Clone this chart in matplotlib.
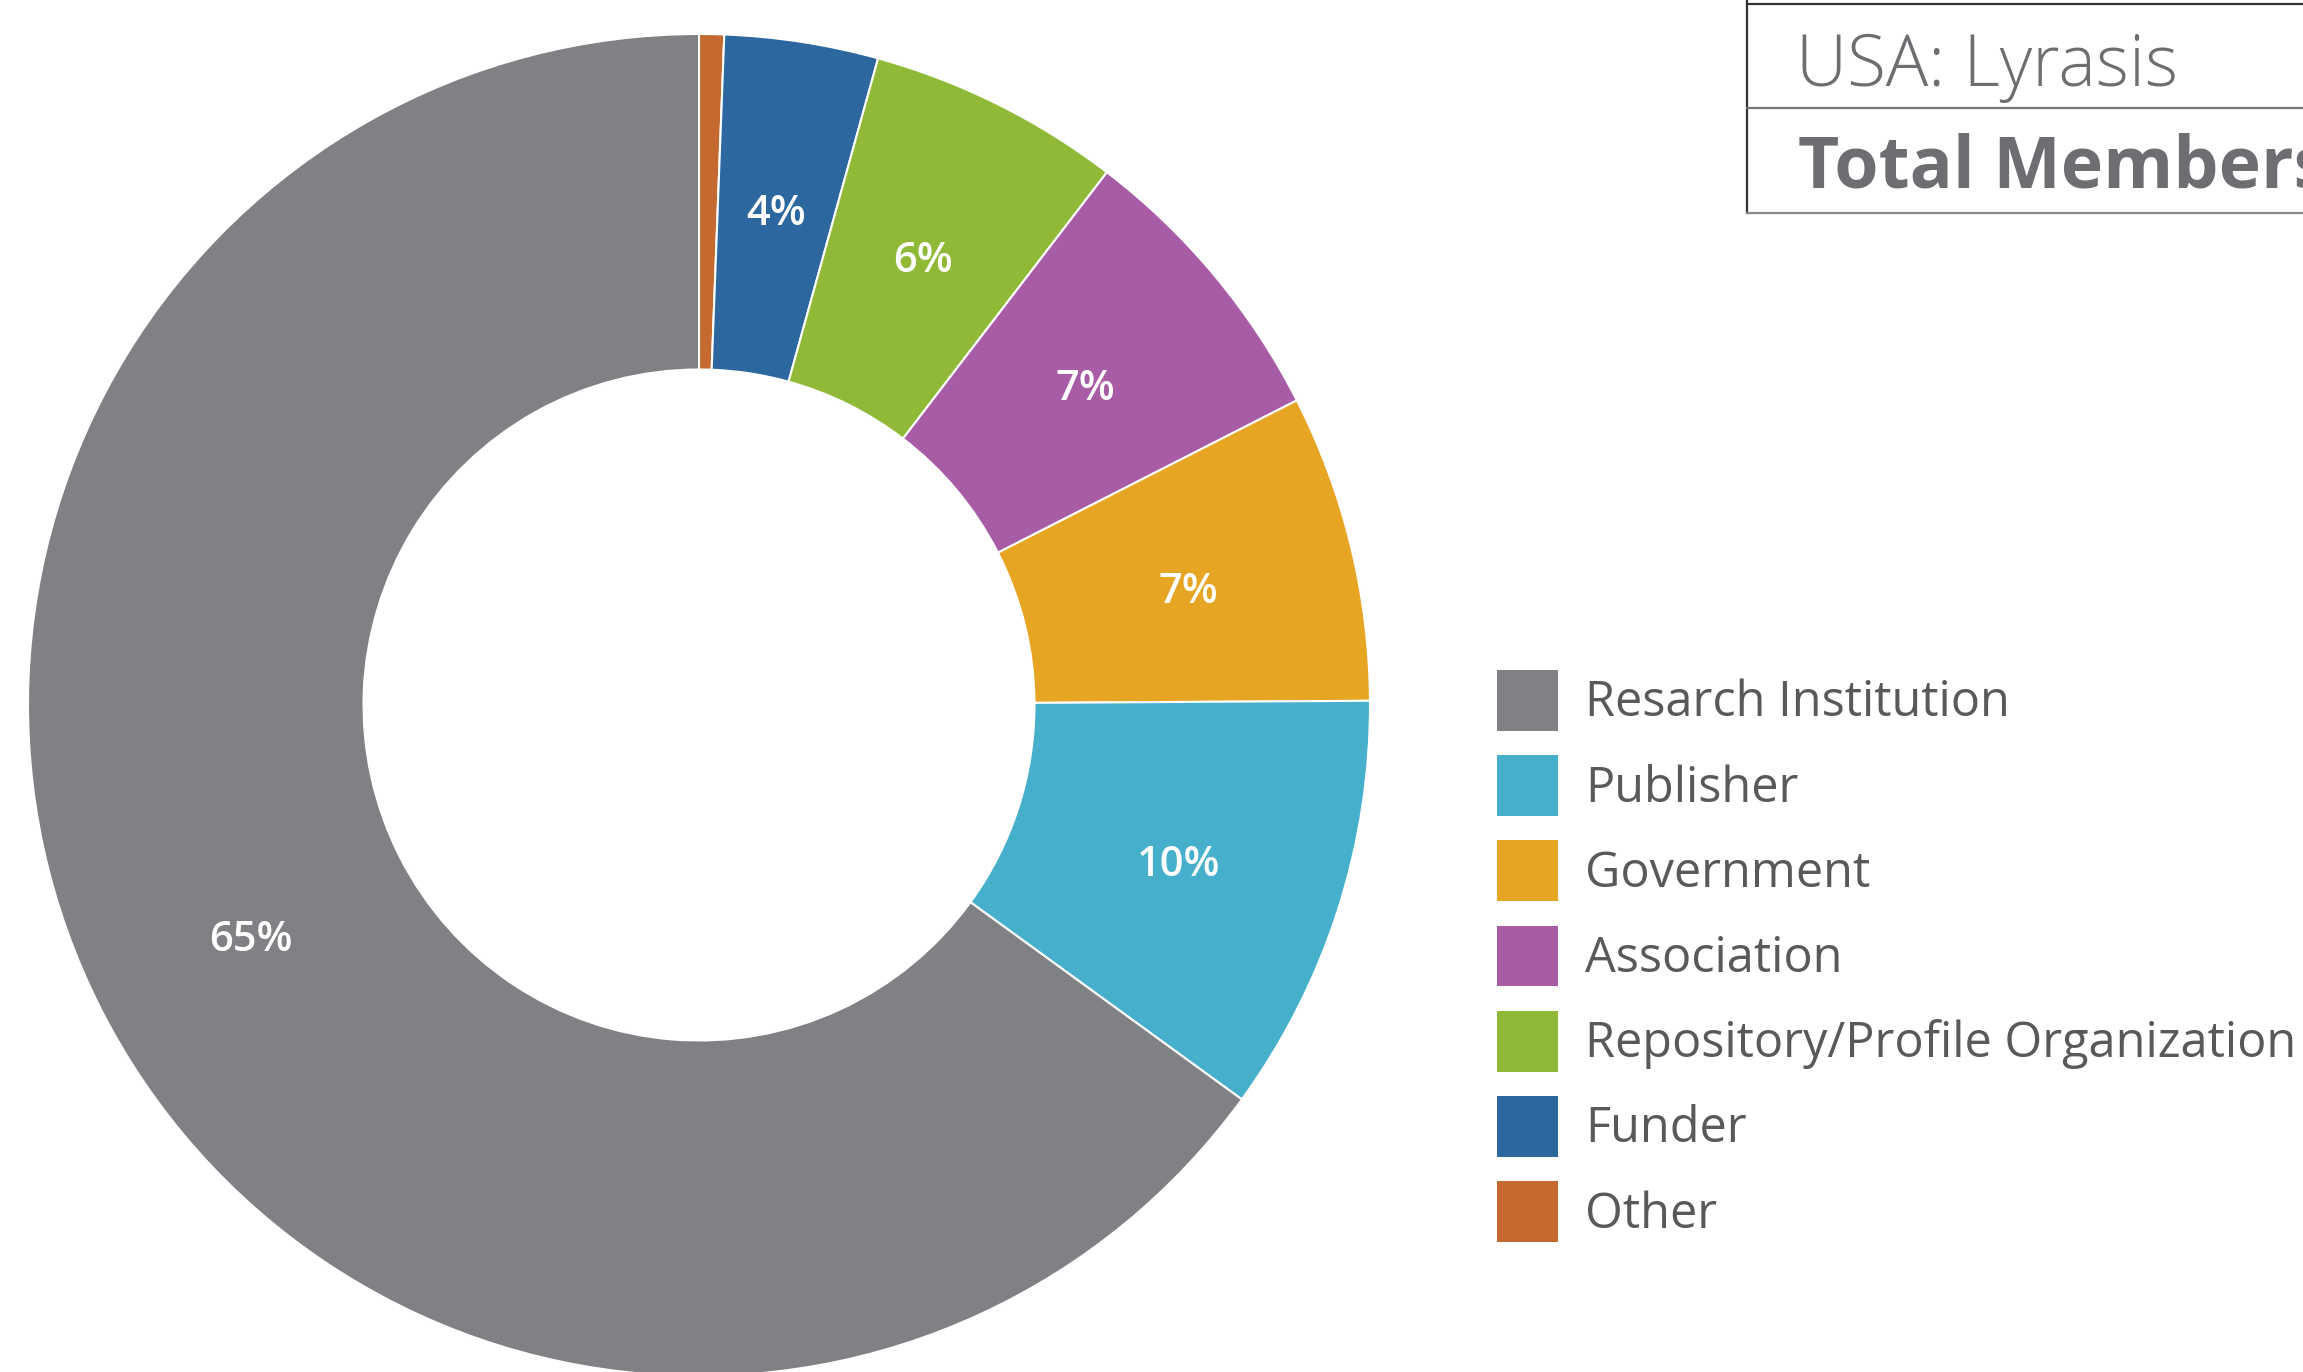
import matplotlib
matplotlib.use("Agg")
import matplotlib.pyplot as plt
from matplotlib.patches import Patch
from matplotlib.lines import Line2D

W, H, DPI = 2303, 1372, 100

# clockwise from 12 o'clock
categories = ["Other", "Funder", "Repository/Profile Organization", "Association",
              "Government", "Publisher", "Resarch Institution"]
shares = [0.6, 3.7, 6.1, 7.1, 7.4, 10.1, 65.0]
colors = ["#c4692f", "#2c67a0", "#90b938", "#a75ca5", "#e6a523", "#46afcb", "#808184"]
legend_order = ["Resarch Institution", "Publisher", "Government", "Association",
                "Repository/Profile Organization", "Funder", "Other"]

TEXT = "#58595b"
plt.rcParams["font.family"] = ["Open Sans", "DejaVu Sans"]

fig = plt.figure(figsize=(W / DPI, H / DPI), dpi=DPI)

# donut: centre (699, 705) px, outer radius 671 px
cx, cy, R = 699, 705, 671
ax = fig.add_axes([(cx - R) / W, (H - cy - R) / H, 2 * R / W, 2 * R / H])
wedges, _, autotexts = ax.pie(
    shares, colors=colors, startangle=90, counterclock=False, radius=1,
    wedgeprops=dict(width=0.5, edgecolor="white", linewidth=1.5),
    autopct=lambda p: f"{p:.0f}%" if p >= 1 else "", pctdistance=0.75,
    textprops=dict(color="white", fontsize=30, fontweight="semibold"))
for t in autotexts:
    x, y = t.get_position()
    t.set_position((x, y - 0.009))
ax.set_xlim(-1, 1); ax.set_ylim(-1, 1)
ax.set_aspect("equal")
ax.axis("off")

# legend
handles = [Patch(facecolor=colors[categories.index(c)], edgecolor="none") for c in legend_order]
fig.legend(handles, legend_order, loc="upper left", bbox_to_anchor=(1497 / W, 1 - 670 / H),
           frameon=False, fontsize=35, labelcolor=TEXT, handlelength=1.25, handleheight=1.55,
           handletextpad=0.56, labelspacing=0.5, borderpad=0, borderaxespad=0)

# header box (runs off the right edge)
def fline(x0, y0, x1, y1, c):
    fig.add_artist(Line2D([x0 / W, x1 / W], [1 - y0 / H, 1 - y1 / H], color=c, lw=1.6,
                          transform=fig.transFigure))

fline(1747, 0, 1747, 213, "#333333")
fline(1747, 4, W, 4, "#333333")
fline(1747, 108, W, 108, "#777777")
fline(1747, 213, W, 213, "#888888")
fig.text(1796 / W, 1 - 86 / H, "USA: Lyrasis", fontsize=51, fontweight="light",
         color="#6d6e71", va="baseline", ha="left")
fig.text(1798 / W, 1 - 188 / H, "Total Members", fontsize=51.5, fontweight="bold",
         color="#6d6e71", va="baseline", ha="left")

fig.savefig("out.png", dpi=DPI)
